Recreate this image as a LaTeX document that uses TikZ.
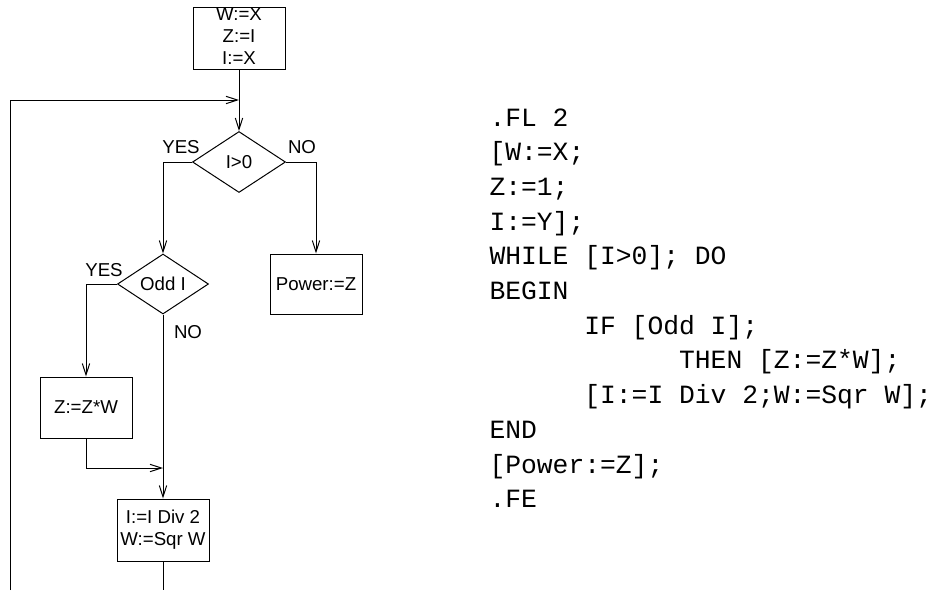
\documentclass[tikz,border=0pt]{standalone}
\usepackage{fontspec}
\setmainfont{Liberation Sans}
\newfontfamily\codefont{Liberation Mono}
\usetikzlibrary{shapes.geometric,arrows.meta}
\begin{document}
\begin{tikzpicture}[x=0.75pt,y=-0.75pt,
  line width=0.75pt,
  every node/.style={font=\fontsize{14}{16.5}\selectfont},
  box/.style={draw, rectangle, minimum width=69pt, minimum height=46pt, inner sep=0pt},
  dia/.style={draw, diamond, shape aspect=1.5, minimum width=69pt, minimum height=45.5pt, inner sep=0pt},
  arr/.style={-{Straight Barb[length=8.5pt,width=5.5pt]}},
  code/.style={anchor=base west, inner sep=0pt, font=\codefont\fontsize{19.75}{26}\selectfont},
  lbl/.style={inner sep=0pt}
]
\useasboundingbox (0,0) rectangle (933,590);
% flowchart
\node[box, minimum height=46.5pt] (init) at (239,38) {};
\node[align=center, inner sep=0pt] (initt) at (239,36) {W:=X\\Z:=I\\I:=X};
\coordinate (join) at (239,100);
\node[dia, minimum width=69.75pt, minimum height=45.75pt] (c1) at (239,162) {I>0};
\node[dia, minimum width=68.25pt, minimum height=45pt] (c2) at (163,284) {Odd I};
\node[box, minimum height=45pt] (pw) at (316,284) {Power:=Z};
\node[box, minimum height=45.75pt] (zz) at (86,407.5) {Z:=Z*W};
\node[box, minimum height=46.5pt, align=center] (ii) at (163,530) {I:=I Div 2\\W:=Sqr W};
\coordinate (merge) at (163,468);
\coordinate (bot) at (163,590);
\coordinate (loopb) at (10,590);
\coordinate (loopt) at (10,100);

\draw[arr] (init.south) -- (c1.north);
\draw[arr] (loopb) -- (loopt) -- (join);
\draw[arr] (c1.west) -| (c2.north);
\draw[arr] (c1.east) -| (pw.north);
\draw[arr] (c2.west) -| (zz.north);
\draw[arr] (c2.south) -- (ii.north);
\draw[arr] (zz.south) |- (merge);
\draw (ii.south) -- (bot);

\node[lbl] (y1) at (181,147) {YES};
\node[lbl] (n1) at (302,147) {NO};
\node[lbl] (y2) at (104,270) {YES};
\node[lbl] (n2) at (188,332) {NO};

% code
\node[code] (l0) at (489,126) {.FL 2};
\node[code] (l1) at (489,160.7) {[W:=X;};
\node[code] (l2) at (489,195.4) {Z:=1;};
\node[code] (l3) at (489,230.1) {I:=Y];};
\node[code] (l4) at (489,264.8) {WHILE [I>0]; DO};
\node[code] (l5) at (489,299.5) {BEGIN};
\node[code] (l6) at (583.8,334.2) {IF [Odd I];};
\node[code] (l7) at (678.6,368.9) {THEN [Z:=Z*W];};
\node[code] (l8) at (583.8,403.6) {[I:=I Div 2;W:=Sqr W];};
\node[code] (l9) at (489,438.3) {END};
\node[code] (l10) at (489,473) {[Power:=Z];};
\node[code] (l11) at (489,507.7) {.FE};
\end{tikzpicture}
\end{document}
